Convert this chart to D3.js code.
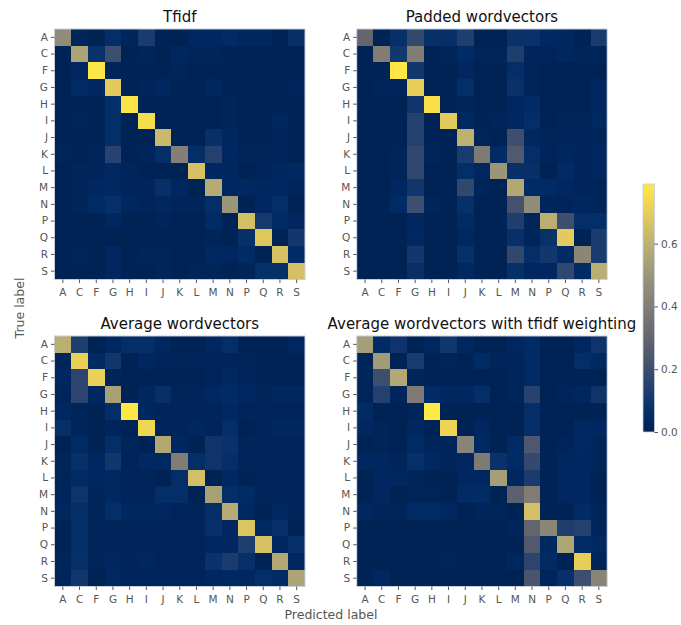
<!DOCTYPE html>
<html>
<head>
<meta charset="utf-8">
<script src="https://cdn.jsdelivr.net/npm/d3@7"></script>
<style>
  body { margin: 0; background: #fff; }
  text { font-family: "DejaVu Sans", sans-serif; }
  .tick text { fill: #555; font-size: 10.5px; }
  .tick line { stroke: #555; }
</style>
</head>
<body>
<div id="viz"></div>
<script>
// class labels (same on both axes)
var labels = ['A','C','F','G','H','I','J','K','L','M','N','P','Q','R','S'];

var titles = ['Tfidf', 'Padded wordvectors', 'Average wordvectors', 'Average wordvectors with tfidf weighting'];

// row = true label, column = predicted label
var tfidf = [
  [0.46,0.02,0.01,0.06,0.02,0.12,0.01,0.01,0.03,0.03,0.05,0.03,0.03,0.01,0.07],
  [0.01,0.55,0.08,0.20,0.01,0.02,0.01,0.03,0.02,0.02,0.01,0.01,0.01,0.01,0.01],
  [0.01,0.03,0.78,0.02,0.01,0.01,0.01,0.02,0.01,0.01,0.01,0.01,0.01,0.01,0.01],
  [0.01,0.05,0.03,0.69,0.01,0.02,0.03,0.01,0.01,0.03,0.01,0.01,0.01,0.01,0.02],
  [0.01,0.01,0.01,0.06,0.77,0.01,0.01,0.01,0.01,0.01,0.02,0.01,0.01,0.01,0.01],
  [0.01,0.02,0.01,0.06,0.01,0.75,0.01,0.01,0.01,0.01,0.02,0.01,0.01,0.03,0.01],
  [0.01,0.01,0.01,0.06,0.01,0.01,0.63,0.01,0.01,0.07,0.03,0.01,0.01,0.02,0.01],
  [0.02,0.01,0.02,0.15,0.01,0.02,0.06,0.41,0.06,0.14,0.03,0.02,0.02,0.02,0.01],
  [0.01,0.02,0.02,0.04,0.02,0.01,0.01,0.01,0.66,0.03,0.03,0.01,0.02,0.03,0.04],
  [0.01,0.02,0.03,0.04,0.02,0.02,0.07,0.03,0.01,0.58,0.03,0.04,0.03,0.03,0.02],
  [0.01,0.02,0.05,0.07,0.03,0.02,0.03,0.02,0.02,0.06,0.50,0.01,0.03,0.06,0.01],
  [0.01,0.01,0.01,0.03,0.01,0.01,0.02,0.01,0.01,0.05,0.01,0.65,0.11,0.05,0.03],
  [0.01,0.01,0.01,0.01,0.01,0.01,0.01,0.01,0.01,0.02,0.01,0.07,0.68,0.01,0.10],
  [0.01,0.02,0.01,0.03,0.01,0.02,0.02,0.01,0.01,0.04,0.03,0.05,0.01,0.66,0.05],
  [0.01,0.01,0.01,0.03,0.01,0.01,0.02,0.01,0.02,0.02,0.01,0.02,0.07,0.07,0.65]
];

var padded = [
  [0.30,0.01,0.07,0.18,0.07,0.07,0.13,0.01,0.01,0.08,0.08,0.04,0.03,0.01,0.12],
  [0.01,0.40,0.10,0.40,0.01,0.02,0.05,0.02,0.02,0.13,0.02,0.02,0.03,0.02,0.02],
  [0.01,0.01,0.78,0.10,0.01,0.01,0.03,0.01,0.01,0.06,0.02,0.01,0.01,0.01,0.01],
  [0.01,0.02,0.02,0.70,0.01,0.01,0.06,0.01,0.01,0.08,0.02,0.01,0.01,0.01,0.03],
  [0.01,0.01,0.01,0.09,0.76,0.01,0.02,0.01,0.01,0.03,0.05,0.01,0.01,0.01,0.03],
  [0.01,0.01,0.01,0.14,0.01,0.69,0.04,0.01,0.02,0.03,0.06,0.01,0.02,0.02,0.04],
  [0.01,0.01,0.01,0.14,0.01,0.01,0.60,0.02,0.01,0.20,0.04,0.02,0.02,0.02,0.02],
  [0.01,0.01,0.02,0.17,0.02,0.01,0.12,0.39,0.05,0.25,0.06,0.02,0.03,0.02,0.03],
  [0.01,0.01,0.02,0.17,0.01,0.01,0.06,0.03,0.50,0.07,0.07,0.01,0.05,0.02,0.03],
  [0.01,0.01,0.03,0.10,0.01,0.01,0.17,0.02,0.01,0.57,0.05,0.05,0.03,0.02,0.02],
  [0.01,0.01,0.05,0.20,0.02,0.01,0.07,0.01,0.01,0.22,0.46,0.02,0.02,0.03,0.02],
  [0.01,0.01,0.01,0.03,0.01,0.01,0.05,0.01,0.01,0.13,0.02,0.59,0.20,0.06,0.06],
  [0.01,0.01,0.01,0.04,0.01,0.01,0.03,0.01,0.01,0.07,0.02,0.08,0.69,0.01,0.12],
  [0.01,0.01,0.01,0.10,0.01,0.01,0.07,0.01,0.01,0.17,0.06,0.10,0.05,0.44,0.12],
  [0.01,0.01,0.01,0.07,0.01,0.01,0.04,0.01,0.01,0.07,0.03,0.03,0.17,0.05,0.59]
];

var average = [
  [0.59,0.13,0.01,0.03,0.06,0.06,0.03,0.01,0.01,0.03,0.06,0.01,0.01,0.01,0.03],
  [0.02,0.71,0.05,0.10,0.01,0.03,0.02,0.02,0.02,0.02,0.02,0.02,0.01,0.01,0.01],
  [0.03,0.16,0.71,0.02,0.01,0.01,0.01,0.01,0.01,0.02,0.04,0.02,0.01,0.01,0.01],
  [0.02,0.16,0.03,0.54,0.01,0.03,0.07,0.02,0.02,0.04,0.05,0.03,0.02,0.03,0.03],
  [0.03,0.02,0.01,0.06,0.78,0.03,0.02,0.02,0.02,0.02,0.04,0.02,0.02,0.02,0.02],
  [0.07,0.02,0.01,0.02,0.01,0.73,0.02,0.02,0.03,0.02,0.06,0.01,0.02,0.03,0.03],
  [0.01,0.05,0.01,0.06,0.02,0.01,0.57,0.03,0.01,0.09,0.08,0.02,0.02,0.02,0.02],
  [0.02,0.07,0.03,0.10,0.02,0.04,0.04,0.40,0.06,0.09,0.06,0.02,0.02,0.02,0.02],
  [0.02,0.05,0.03,0.04,0.02,0.02,0.01,0.06,0.65,0.01,0.04,0.01,0.02,0.02,0.02],
  [0.02,0.09,0.02,0.04,0.02,0.02,0.06,0.06,0.01,0.54,0.06,0.05,0.02,0.02,0.02],
  [0.03,0.06,0.02,0.06,0.03,0.03,0.03,0.02,0.02,0.06,0.58,0.04,0.01,0.04,0.02],
  [0.01,0.06,0.02,0.02,0.02,0.02,0.02,0.02,0.02,0.07,0.03,0.67,0.04,0.07,0.01],
  [0.01,0.06,0.02,0.02,0.02,0.02,0.02,0.02,0.02,0.03,0.03,0.13,0.66,0.03,0.07],
  [0.02,0.07,0.02,0.03,0.02,0.03,0.02,0.02,0.02,0.08,0.12,0.07,0.01,0.57,0.03],
  [0.02,0.10,0.01,0.04,0.02,0.02,0.02,0.02,0.02,0.03,0.04,0.03,0.06,0.05,0.55]
];

var averageTfidf = [
  [0.53,0.05,0.09,0.01,0.03,0.10,0.03,0.01,0.01,0.03,0.05,0.01,0.01,0.03,0.09],
  [0.02,0.52,0.01,0.12,0.01,0.02,0.01,0.05,0.02,0.02,0.05,0.01,0.01,0.06,0.04],
  [0.02,0.20,0.57,0.02,0.01,0.01,0.01,0.01,0.01,0.02,0.05,0.01,0.01,0.01,0.01],
  [0.02,0.14,0.02,0.39,0.05,0.03,0.03,0.06,0.01,0.02,0.15,0.01,0.02,0.03,0.09],
  [0.05,0.01,0.01,0.02,0.79,0.01,0.01,0.01,0.01,0.01,0.06,0.01,0.01,0.01,0.01],
  [0.03,0.02,0.01,0.03,0.01,0.72,0.01,0.03,0.01,0.01,0.06,0.01,0.01,0.04,0.03],
  [0.01,0.02,0.01,0.05,0.02,0.02,0.43,0.04,0.01,0.05,0.24,0.01,0.02,0.04,0.02],
  [0.03,0.03,0.02,0.07,0.04,0.02,0.03,0.39,0.08,0.05,0.18,0.01,0.03,0.03,0.02],
  [0.01,0.03,0.03,0.02,0.01,0.01,0.03,0.03,0.53,0.03,0.12,0.01,0.03,0.03,0.01],
  [0.01,0.03,0.01,0.02,0.02,0.01,0.05,0.05,0.01,0.28,0.40,0.01,0.03,0.03,0.01],
  [0.03,0.02,0.02,0.05,0.05,0.03,0.01,0.02,0.02,0.01,0.65,0.01,0.01,0.05,0.02],
  [0.01,0.01,0.01,0.01,0.01,0.01,0.01,0.01,0.01,0.02,0.30,0.44,0.13,0.14,0.02],
  [0.01,0.01,0.01,0.01,0.01,0.01,0.01,0.01,0.01,0.01,0.25,0.04,0.56,0.05,0.04],
  [0.01,0.01,0.01,0.01,0.01,0.02,0.01,0.01,0.01,0.03,0.16,0.05,0.01,0.70,0.02],
  [0.01,0.03,0.01,0.01,0.01,0.01,0.01,0.01,0.01,0.01,0.23,0.02,0.07,0.20,0.43]
];

var matrices = [tfidf, padded, average, averageTfidf];
var colorbarTicks = [0.0, 0.2, 0.4, 0.6];

var width = 681, height = 625;
var svg = d3.select('#viz').append('svg')
  .attr('width', width)
  .attr('height', height);

// shared colour scale
var vmax = d3.max(matrices, function (m) { return d3.max(m, function (r) { return d3.max(r); }); });
var color = d3.scaleSequential(d3.interpolateCividis).domain([0, vmax]);

// panel positions
var size = 250.5;
var origins = [[54.5, 29], [356.7, 29], [54.5, 336], [356.7, 336]];

matrices.forEach(function (m, k) {
  var g = svg.append('g')
    .attr('transform', 'translate(' + origins[k][0] + ',' + origins[k][1] + ')');

  var x = d3.scaleBand().domain(labels).range([0, size]);
  var y = d3.scaleBand().domain(labels).range([0, size]);

  var cells = [];
  m.forEach(function (row, i) {
    row.forEach(function (v, j) {
      cells.push({ t: labels[i], p: labels[j], v: v });
    });
  });

  // cells overlap a little so no seams show between them
  g.selectAll('.cell')
    .data(cells)
    .enter()
    .append('rect')
    .attr('class', 'cell')
    .attr('x', function (d) { return x(d.p); })
    .attr('y', function (d) { return y(d.t); })
    .attr('width', function (d) { return d.p === 'S' ? x.bandwidth() : x.bandwidth() + 1; })
    .attr('height', function (d) { return d.t === 'S' ? y.bandwidth() : y.bandwidth() + 1; })
    .attr('shape-rendering', 'crispEdges')
    .attr('fill', function (d) { return color(d.v); });

  // frame
  g.append('rect')
    .attr('width', size).attr('height', size)
    .attr('fill', 'none')
    .attr('stroke', '#c5cedb')
    .attr('stroke-width', 1);

  var ya = g.append('g')
    .call(d3.axisLeft(y).tickSize(3.5).tickPadding(3));
  ya.select('.domain').remove();

  var xa = g.append('g')
    .attr('transform', 'translate(0,' + size + ')')
    .call(d3.axisBottom(x).tickSize(3.5).tickPadding(4));
  xa.select('.domain').remove();
  xa.selectAll('text').attr('dy', '0.9em');

  g.append('text')
    .attr('x', size / 2)
    .attr('y', -7)
    .attr('text-anchor', 'middle')
    .attr('font-size', '15px')
    .attr('fill', '#111')
    .text(titles[k]);
});

// axis titles
svg.append('text')
  .attr('transform', 'translate(24,308) rotate(-90)')
  .attr('text-anchor', 'middle')
  .attr('font-size', '12.5px')
  .attr('fill', '#555')
  .text('True label');

svg.append('text')
  .attr('x', 331)
  .attr('y', 619)
  .attr('text-anchor', 'middle')
  .attr('font-size', '12.5px')
  .attr('fill', '#555')
  .text('Predicted label');

// colorbar
var cbX = 643, cbW = 11.5, cbTop = 184, cbBottom = 432;
var cbScale = d3.scaleLinear().domain([0, vmax]).range([cbBottom, cbTop]);
var defs = svg.append('defs');
var grad = defs.append('linearGradient')
  .attr('id', 'cbgrad')
  .attr('x1', '0').attr('y1', '1').attr('x2', '0').attr('y2', '0');
d3.range(0, 1.0001, 0.05).forEach(function (t) {
  grad.append('stop')
    .attr('offset', t)
    .attr('stop-color', d3.interpolateCividis(t));
});
svg.append('rect')
  .attr('x', cbX).attr('y', cbTop)
  .attr('width', cbW).attr('height', cbBottom - cbTop)
  .attr('fill', 'url(#cbgrad)')
  .attr('stroke', '#c5cedb')
  .attr('stroke-width', 0.8);

var cba = svg.append('g')
  .attr('transform', 'translate(' + (cbX + cbW) + ',0)')
  .call(d3.axisRight(cbScale).tickValues(colorbarTicks).tickFormat(d3.format('.1f')).tickSize(3.5).tickPadding(3));
cba.select('.domain').remove();
</script>
</body>
</html>
